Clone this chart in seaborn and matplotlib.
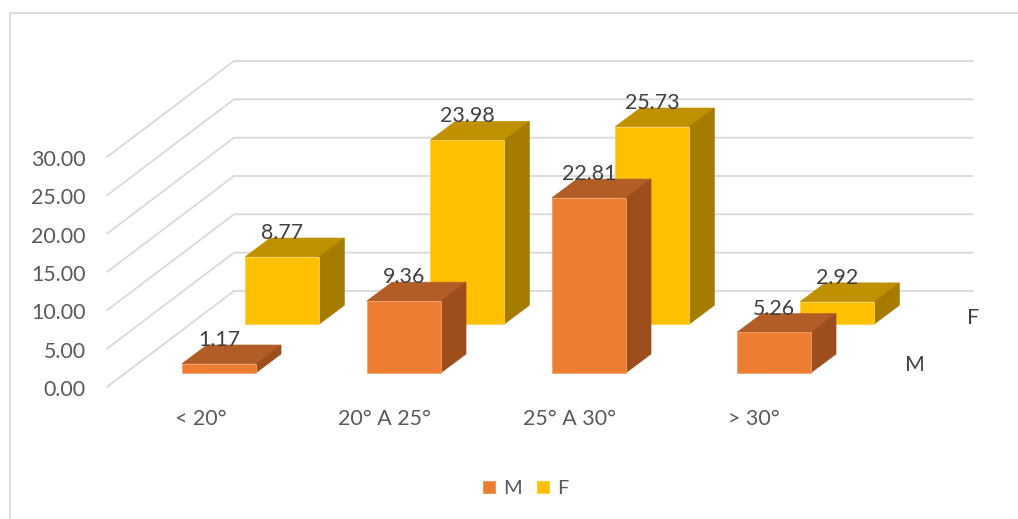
import matplotlib
matplotlib.use("Agg")
import matplotlib.pyplot as plt
from matplotlib.patches import Patch
import numpy as np
import seaborn as sns

# Chart values
categories = ["< 20°", "20° A 25°", "25° A 30°", "> 30°"]
series_m = [1.17, 9.36, 22.81, 5.26]
series_f = [8.77, 23.98, 25.73, 2.92]
tick_values = [0, 5, 10, 15, 20, 25, 30]

# Oblique projection of the 3D scene, in figure pixels
W, H = 1018, 519
PX_PER_UNIT = 7.667
FLOOR_Y = 387.0                # pixel row of value 0 on the front edge
WALL_DX, WALL_DY = 127.0, 96.0 # floor depth from front edge to back wall
GRID_X0, GRID_X1 = 107.0, 973.0
BAR_W = 74.0
BAR_DX, BAR_DY = 25.0, 18.7    # depth of each bar
STEP = 185.0                   # distance between categories
M_X0, M_LIFT = 182.0, 14.3     # left edge and floor offset of the near row
F_X0, F_LIFT = 245.3, 63.0     # same for the far row

PALETTE = {
    "M": ("#ED7D31", "#B25D25", "#9C4F1D"),
    "F": ("#FFC000", "#BF9000", "#A67C00"),
}
EDGE = {"M": "#F2A06A", "F": "#F8CF55"}
GRID = "#D9D9D9"
LABEL = "#595959"
DARK = "#404040"


def units(px):
    return px / PX_PER_UNIT


sns.set_theme(style="white")
plt.rcParams["font.family"] = ["Lato", "DejaVu Sans"]
FS = 15.4

fig = plt.figure(figsize=(W / 100, H / 100), dpi=100, facecolor="white")
ax = fig.add_axes([0, 0, 1, 1])


def draw_row(name, values, x0, lift, z):
    front, top, side = PALETTE[name]
    base = units(lift)
    lefts = x0 + STEP * np.arange(len(values))
    sns.barplot(x=lefts + BAR_W / 2, y=values, bottom=base, native_scale=True,
                width=BAR_W / STEP, color=front, saturation=1, ax=ax,
                edgecolor=EDGE[name], linewidth=0.6, zorder=z + 1)
    dx, dy = BAR_DX, units(BAR_DY)
    for left, v in zip(lefts, values):
        right = left + BAR_W
        y1 = base + v
        ax.fill([left, right, right + dx, left + dx],
                [y1, y1, y1 + dy, y1 + dy], facecolor=top, edgecolor=top,
                linewidth=0.5, zorder=z)
        ax.fill([right, right + dx, right + dx, right],
                [base, base + dy, y1 + dy, y1], facecolor=side, edgecolor=side,
                linewidth=0.5, zorder=z)
        ax.text(left + BAR_W / 2, y1 + dy - units(1.0), f"{v:.2f}",
                ha="center", va="baseline", fontsize=FS, color=DARK, zorder=z + 10)


# Wall and floor gridlines with the value axis labels
for v in tick_values:
    back = v + units(WALL_DY)
    ax.plot([GRID_X0, GRID_X0 + WALL_DX, GRID_X1], [v, back, back],
            color=GRID, lw=1.3, solid_joinstyle="miter", zorder=1)
    ax.text(86, v - units(3), f"{v:.2f}", ha="right", va="center", fontsize=FS, color=LABEL)

draw_row("F", series_f, F_X0, F_LIFT, 2)
draw_row("M", series_m, M_X0, M_LIFT, 20)

# Category labels along the floor, series labels along the depth axis
for i, c in enumerate(categories):
    ax.text(200.5 + STEP * i - 0.5 * i, units(FLOOR_Y - 419), c, ha="center",
            va="center", fontsize=FS, color=LABEL)
ax.text(915, units(FLOOR_Y - 365), "M", ha="center", va="center",
        fontsize=FS, color=DARK)
ax.text(973, units(FLOOR_Y - 318), "F", ha="center", va="center",
        fontsize=FS, color=DARK)

# Legend
handles = [Patch(facecolor=PALETTE[k][0], label=k) for k in ("M", "F")]
ax.legend(handles=handles, ncol=2, frameon=False, loc="center",
          bbox_to_anchor=(525.5 / W, 1 - 488 / H), bbox_transform=fig.transFigure,
          fontsize=FS - 1, labelcolor=LABEL, handlelength=0.7, handleheight=0.7,
          handletextpad=0.35, columnspacing=0.7, borderpad=0)

# Pixel-aligned limits; the chart frame shows on the top and left only
ax.set_xlim(0, W)
ax.set_ylim(units(FLOOR_Y - H), units(FLOOR_Y))
ax.set_xticks([])
ax.set_yticks([])
ax.set_xlabel("")
ax.set_ylabel("")
for s in ax.spines.values():
    s.set_visible(False)
ax.plot([10, 10, W], [units(FLOOR_Y - H), units(FLOOR_Y - 13), units(FLOOR_Y - 13)],
        color=GRID, lw=1.3, zorder=0)

fig.savefig("out.png", dpi=100, facecolor="white")
